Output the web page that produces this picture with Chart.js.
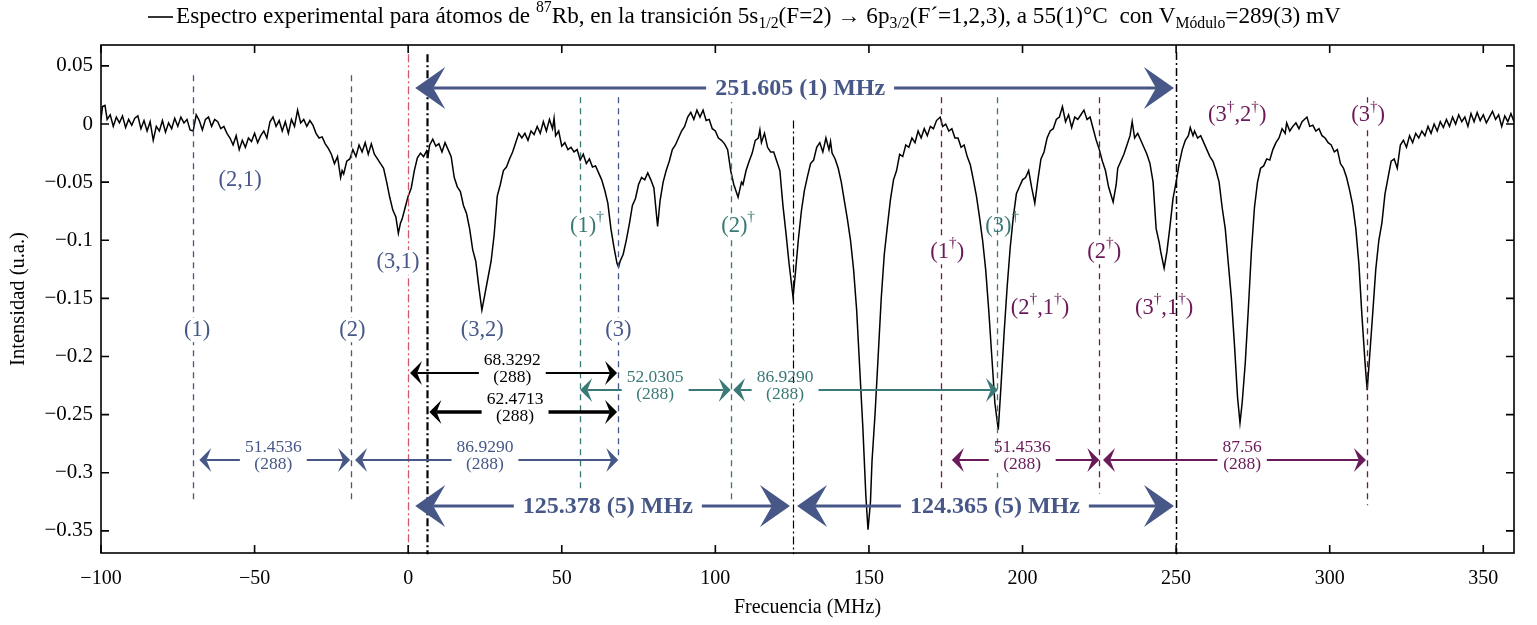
<!DOCTYPE html>
<html>
<head>
<meta charset="utf-8">
<script src="https://cdn.jsdelivr.net/npm/chart.js@4.4.1/dist/chart.umd.min.js"></script>
<style>
  body { margin: 0; background: #fff; }
  #chart { display: block; }
</style>
</head>
<body>
<canvas id="chart" width="1537" height="625"></canvas>
<script>
// Spectrum (MHz, u.a.)
const freq = [
  -100, -99.5, -98.7, -98, -97, -96, -95, -94, -93, -92, -91, -90, -89, -88, -87, -86, -85, -84, -83, -82,
  -81, -80, -79, -78, -77, -76, -75, -74, -73, -72, -71, -70, -69, -68, -67, -66, -65, -64, -63, -62,
  -61, -60, -59, -58, -57, -56, -55, -54, -53, -52, -51, -50, -49, -48, -47, -46, -45, -44, -43, -42,
  -41, -40, -39, -38, -37, -36, -35, -34, -33, -32, -31, -30, -29, -28, -27, -26, -25, -24, -23, -22,
  -21.5, -21, -20, -19, -18, -17, -16, -15, -14, -13, -12, -11, -10, -9, -8, -7, -6, -5, -4, -3.2,
  -2.5, -2, -1, 0, 1, 2, 3, 4, 5, 6, 6.5, 7, 8, 9, 10, 11, 12, 13, 14, 15,
  16, 17, 18, 19, 20, 21, 22, 23, 24, 25, 26, 27, 28, 29, 30, 31, 32, 33, 34, 35,
  36, 37, 38, 39, 40, 41, 42, 43, 44, 45, 46, 47, 47.5, 48, 49, 50, 51, 52, 53, 54,
  55, 56, 57, 58, 59, 60, 61, 62, 63, 64, 65, 66, 67, 68, 68.5, 69, 70, 71, 72, 73,
  74, 75, 76, 77, 78, 79, 80, 81.2, 82, 83, 84, 85, 86, 87, 88, 89, 90, 91, 92, 93,
  94, 95, 96, 97, 98, 99, 100, 101, 102, 103, 104, 105, 106, 107.4, 108.5, 109, 110, 111, 112, 113,
  114, 114.5, 115, 116, 117, 118, 119, 120, 121, 122, 123, 124, 125.3, 126, 127, 128, 129, 130, 131, 132,
  133, 134, 135, 136, 137, 137.5, 138, 139, 140, 141, 142, 143, 144, 145, 146, 147, 148, 149, 149.7, 150.5,
  151, 152, 153, 154, 155, 156, 157, 158, 159, 160, 161, 162, 163, 164, 165, 166, 167, 168, 169, 170,
  171, 172, 173.2, 174, 175, 176, 177, 178, 179, 180, 181, 182, 183, 184, 185, 186, 187, 188, 189, 190,
  191, 192.1, 193, 194, 195, 196, 197, 198, 199, 200, 201, 202, 203, 204, 205, 206, 207, 208, 209, 210,
  211, 212, 213, 214, 215, 216, 217, 218, 219, 220, 221, 222, 223, 224, 225, 226, 227, 228, 229.5, 230.5,
  231, 232, 233, 234, 235, 235.7, 236.5, 237.5, 238.5, 239.5, 240.5, 241.5, 242.5, 243.5, 244.5, 245, 246.1, 247, 248, 249,
  250, 251, 252, 253, 254, 254.6, 255.5, 256, 257, 258, 259, 260, 261, 262, 263, 264, 265, 266, 267, 268,
  269, 270, 270.8, 271.5, 272.5, 273.5, 274.5, 275.5, 276.5, 277.5, 278.5, 279.5, 280.5, 281.5, 282.5, 283.5, 284.5, 285.5, 286, 287,
  288, 289, 290, 291, 292.6, 293.5, 294.5, 295.5, 296.5, 297.5, 298.5, 299.5, 300.5, 301.5, 302.5, 303.5, 304.5, 305.5, 306.5, 307.5,
  308.5, 309.5, 310.5, 311.5, 312.2, 313, 314, 315, 316, 317, 318, 319, 320, 321, 322, 323, 324, 325, 326, 327,
  328, 329, 330, 331, 332, 333, 334, 335, 336, 337, 338, 339, 340, 341, 342, 343, 344, 345, 346, 347,
  348, 349, 350, 351, 352, 353, 354, 355, 356, 357, 358, 359, 360
];
const inten = [
  0.004, 0.015, 0.016, 0.004, 0.008, -0.002, 0.006, 0.001, 0.007, -0.003, 0.004, -0.001, 0.005, 0.007, -0.004, 0.003, -0.006, 0.002, -0.014, -0.002,
  -0.006, 0.003, -0.007, 0.001, -0.004, 0.005, -0.002, 0.006, 0.001, 0.004, -0.005, -0.006, 0.008, 0.003, -0.005, 0.004, 0.006, -0.002, 0.004, 0.002,
  -0.004, -0.002, -0.008, -0.012, -0.018, -0.010, -0.022, -0.014, -0.020, -0.012, -0.015, -0.008, -0.016, -0.010, -0.006, -0.012, 0.002, 0.006, -0.002, 0.003,
  -0.006, 0.002, -0.008, 0.004, -0.002, 0.012, 0.001, 0.004, -0.002, 0.003, -0.001, -0.008, -0.012, -0.011, -0.017, -0.021, -0.026, -0.034, -0.028, -0.046,
  -0.040, -0.043, -0.032, -0.030, -0.022, -0.028, -0.018, -0.024, -0.016, -0.026, -0.017, -0.026, -0.030, -0.034, -0.038, -0.050, -0.063, -0.074, -0.080, -0.094,
  -0.085, -0.082, -0.072, -0.062, -0.055, -0.040, -0.029, -0.025, -0.028, -0.023, -0.027, -0.018, -0.013, -0.019, -0.017, -0.024, -0.016, -0.022, -0.028, -0.046,
  -0.054, -0.058, -0.070, -0.077, -0.090, -0.108, -0.118, -0.140, -0.160, -0.146, -0.132, -0.118, -0.095, -0.062, -0.052, -0.040, -0.037, -0.030, -0.024, -0.016,
  -0.008, -0.012, -0.008, -0.014, -0.006, -0.009, -0.002, -0.008, 0.002, -0.006, 0.004, -0.004, 0.005, -0.010, -0.006, -0.019, -0.016, -0.022, -0.020, -0.024,
  -0.022, -0.031, -0.026, -0.034, -0.030, -0.037, -0.036, -0.042, -0.048, -0.057, -0.068, -0.090, -0.106, -0.120, -0.123, -0.118, -0.112, -0.100, -0.086, -0.070,
  -0.064, -0.052, -0.046, -0.048, -0.042, -0.048, -0.055, -0.088, -0.066, -0.050, -0.040, -0.032, -0.022, -0.018, -0.012, -0.006, -0.002, 0.006, 0.010, 0.004,
  0.012, 0.006, 0.012, 0.003, 0.004, -0.004, -0.006, -0.012, -0.014, -0.017, -0.022, -0.040, -0.052, -0.063, -0.050, -0.052, -0.040, -0.032, -0.025, -0.014,
  -0.012, -0.005, -0.016, -0.008, -0.020, -0.024, -0.024, -0.032, -0.040, -0.070, -0.094, -0.120, -0.149, -0.130, -0.100, -0.075, -0.057, -0.045, -0.034, -0.031,
  -0.020, -0.016, -0.024, -0.012, -0.022, -0.015, -0.025, -0.030, -0.038, -0.050, -0.066, -0.082, -0.100, -0.125, -0.160, -0.210, -0.260, -0.320, -0.349, -0.325,
  -0.290, -0.249, -0.200, -0.150, -0.112, -0.088, -0.065, -0.048, -0.040, -0.026, -0.028, -0.018, -0.020, -0.012, -0.016, -0.006, -0.012, -0.004, -0.010, -0.002,
  -0.004, 0.003, 0.006, -0.002, 0.000, -0.006, -0.004, -0.012, -0.012, -0.020, -0.018, -0.028, -0.035, -0.048, -0.062, -0.080, -0.100, -0.125, -0.160, -0.200,
  -0.240, -0.263, -0.225, -0.180, -0.140, -0.106, -0.080, -0.060, -0.054, -0.048, -0.046, -0.040, -0.055, -0.068, -0.048, -0.030, -0.024, -0.012, -0.006, -0.004,
  0.004, 0.006, 0.015, 0.002, 0.008, -0.003, 0.006, 0.004, 0.008, 0.012, 0.004, 0.006, -0.004, -0.014, -0.022, -0.032, -0.040, -0.054, -0.067, -0.052,
  -0.038, -0.032, -0.026, -0.018, -0.010, 0.002, -0.012, -0.008, -0.014, -0.020, -0.026, -0.034, -0.050, -0.090, -0.102, -0.110, -0.124, -0.110, -0.088, -0.064,
  -0.050, -0.034, -0.022, -0.014, -0.010, -0.003, -0.010, -0.006, -0.012, -0.010, -0.016, -0.022, -0.028, -0.032, -0.040, -0.050, -0.072, -0.090, -0.120, -0.150,
  -0.190, -0.235, -0.257, -0.240, -0.206, -0.160, -0.110, -0.072, -0.050, -0.038, -0.036, -0.030, -0.031, -0.022, -0.016, -0.012, -0.004, -0.008, 0.001, -0.006,
  -0.002, 0.001, -0.004, 0.002, 0.006, -0.002, -0.001, -0.006, -0.004, -0.010, -0.012, -0.016, -0.018, -0.024, -0.022, -0.034, -0.038, -0.046, -0.057, -0.070,
  -0.090, -0.120, -0.165, -0.205, -0.229, -0.200, -0.163, -0.125, -0.100, -0.085, -0.060, -0.046, -0.032, -0.030, -0.038, -0.018, -0.014, -0.020, -0.010, -0.016,
  -0.008, -0.012, -0.006, -0.010, -0.002, -0.008, 0.000, -0.006, 0.002, -0.003, 0.004, -0.002, 0.006, 0.000, 0.008, 0.002, 0.006, -0.002, 0.009, 0.002,
  0.010, 0.003, 0.008, 0.001, 0.006, 0.011, 0.004, 0.008, -0.002, 0.007, 0.002, 0.009, 0.002
];

const xTicks = [-100, -50, 0, 50, 100, 150, 200, 250, 300, 350];
const yTicks = [0.05, 0, -0.05, -0.1, -0.15, -0.2, -0.25, -0.3, -0.35];

const titleText = 'Espectro experimental para átomos de ^{87}Rb, en la transición 5s_{1/2}(F=2) → 6p_{3/2}(F´=1,2,3), a 55(1)°C  con V_{Módulo}=289(3) mV';

const BLUE = '#475888';
const TEAL = '#3a7977';
const PURPLE = '#6a1a58';
const RED = '#d25a68';
const SERIF = '"Liberation Serif", "DejaVu Serif", serif';

// marker lines (MHz)
const vlines = [
  { x: -70, top: 0.042, bottom: -0.3235, color: BLUE, style: 'dash' },
  { x: -18.6, top: 0.042, bottom: -0.3235, color: BLUE, style: 'dash' },
  { x: 68.4, top: 0.023, bottom: -0.289, color: BLUE, style: 'dash' },
  { x: 56, top: 0.023, bottom: -0.3235, color: TEAL, style: 'dash' },
  { x: 105.1, top: 0.023, bottom: -0.3235, color: TEAL, style: 'dash' },
  { x: 191.7, top: 0.023, bottom: -0.325, color: TEAL, style: 'dash' },
  { x: 173.5, top: 0.023, bottom: -0.32, color: PURPLE, style: 'dash' },
  { x: 225, top: 0.023, bottom: -0.318, color: PURPLE, style: 'dash' },
  { x: 312.2, top: 0.023, bottom: -0.328, color: PURPLE, style: 'dash' },
  { x: 0, top: 0.06, bottom: -0.37, color: RED, style: 'dashdot', width: 1.3 },
  { x: 6.2, top: 0.06, bottom: -0.37, color: '#000', style: 'dashdot', width: 2.2 },
  { x: 125.4, top: 0.003, bottom: -0.37, color: '#000', style: 'dashdot', width: 1.2 },
  { x: 250, top: 0.062, bottom: -0.37, color: '#000', style: 'dashdot', width: 1.5 }
];

// peak labels
const peakLabels = [
  { t: '(2,1)', x: -54.7, y: -0.048, color: BLUE },
  { t: '(3,1)', x: -3.3, y: -0.119, color: BLUE, bg: true },
  { t: '(1)', x: -68.7, y: -0.177, color: BLUE, bg: true },
  { t: '(2)', x: -18.2, y: -0.177, color: BLUE, bg: true },
  { t: '(3,2)', x: 24.1, y: -0.177, color: BLUE },
  { t: '(3)', x: 68.4, y: -0.177, color: BLUE, bg: true },
  { t: '(1)^{†}', x: 58.2, y: -0.0877, color: TEAL, bg: true },
  { t: '(2)^{†}', x: 107.4, y: -0.0877, color: TEAL, bg: true },
  { t: '(3)^{†}', x: 193.4, y: -0.0877, color: TEAL },
  { t: '(1^{†})', x: 175.5, y: -0.110, color: PURPLE, bg: true },
  { t: '(2^{†})', x: 226.6, y: -0.110, color: PURPLE, bg: true },
  { t: '(2^{†},1^{†})', x: 205.7, y: -0.158, color: PURPLE },
  { t: '(3^{†},1^{†})', x: 246.1, y: -0.158, color: PURPLE },
  { t: '(3^{†},2^{†})', x: 269.9, y: 0.0077, color: PURPLE },
  { t: '(3^{†})', x: 312.5, y: 0.0077, color: PURPLE, bg: true }
];

// distance arrows
const arrows = [
  { x1: 2.3, x2: 249.3, y: 0.031, color: BLUE, big: true, label: ['251.605 (1) MHz'], lx: 127.6 },
  { x1: 2.3, x2: 124.3, y: -0.3286, color: BLUE, big: true, label: ['125.378 (5) MHz'], lx: 65 },
  { x1: 126.6, x2: 249.3, y: -0.3286, color: BLUE, big: true, label: ['124.365 (5) MHz'], lx: 191 },
  { x1: 0.6, x2: 68, y: -0.2142, color: '#000', width: 2, label: ['68.3292', '(288)'], lx: 33.9 },
  { x1: 6.9, x2: 68, y: -0.2477, color: '#000', width: 3.4, label: ['62.4713', '(288)'], lx: 34.8 },
  { x1: 56, x2: 105, y: -0.2288, color: TEAL, width: 2, label: ['52.0305', '(288)'], lx: 80.4 },
  { x1: 105.8, x2: 192, y: -0.2288, color: TEAL, width: 2, label: ['86.9290', '(288)'], lx: 122.7 },
  { x1: -68, x2: -18.9, y: -0.289, color: BLUE, width: 2, label: ['51.4536', '(288)'], lx: -43.9 },
  { x1: -17.3, x2: 68.4, y: -0.289, color: BLUE, width: 2, label: ['86.9290', '(288)'], lx: 25 },
  { x1: 177, x2: 225, y: -0.289, color: PURPLE, width: 2, label: ['51.4536', '(288)'], lx: 199.9 },
  { x1: 226.2, x2: 311.8, y: -0.289, color: PURPLE, width: 2, label: ['87.56', '(288)'], lx: 271.5 }
];

function fmt(v) {
  return (v < 0 ? '\u2212' : '') + String(Math.abs(v));
}

// tiny rich text: ^{..} superscript, _{..} subscript
function parseRich(str) {
  const out = [];
  let i = 0, buf = '';
  while (i < str.length) {
    const c = str[i];
    if ((c === '^' || c === '_') && str[i + 1] === '{') {
      if (buf) { out.push({ t: buf, m: 0 }); buf = ''; }
      const end = str.indexOf('}', i);
      out.push({ t: str.slice(i + 2, end), m: c === '^' ? 1 : -1 });
      i = end + 1;
    } else {
      buf += c;
      i++;
    }
  }
  if (buf) out.push({ t: buf, m: 0 });
  return out;
}

function richWidth(ctx, segs, size, weight) {
  let w = 0;
  segs.forEach(s => {
    ctx.font = weight + ' ' + (s.m ? size * 0.68 : size) + 'px ' + SERIF;
    w += ctx.measureText(s.t).width;
  });
  return w;
}

function drawRich(ctx, str, x, y, size, color, opts = {}) {
  const weight = opts.bold ? 'bold' : 'normal';
  const segs = parseRich(str);
  const w = richWidth(ctx, segs, size, weight);
  let cx = opts.align === 'left' ? x : x - w / 2;
  if (opts.bg) {
    ctx.fillStyle = '#fff';
    ctx.fillRect(cx - 2, y - size * 0.55, w + 4, size * 1.1);
  }
  ctx.fillStyle = color;
  ctx.textBaseline = 'middle';
  ctx.textAlign = 'left';
  segs.forEach(s => {
    const sz = s.m ? size * 0.68 : size;
    ctx.font = weight + ' ' + sz + 'px ' + SERIF;
    const dy = s.m === 1 ? -size * 0.38 : s.m === -1 ? size * 0.3 : 0;
    ctx.fillText(s.t, cx, y + dy);
    cx += ctx.measureText(s.t).width;
  });
  return w;
}

function arrowHead(ctx, tx, y, dir, L, H, notch) {
  ctx.beginPath();
  ctx.moveTo(tx, y);
  ctx.lineTo(tx - dir * L, y - H);
  ctx.lineTo(tx - dir * L * notch, y);
  ctx.lineTo(tx - dir * L, y + H);
  ctx.closePath();
  ctx.fill();
}

const annotationPlugin = {
  id: 'annotations',
  afterDatasetsDraw(chart) {
    const ctx = chart.ctx;
    const xs = chart.scales.x, ys = chart.scales.y;
    const px = v => xs.getPixelForValue(v);
    const py = v => ys.getPixelForValue(v);
    ctx.save();

    vlines.forEach(l => {
      ctx.strokeStyle = l.color;
      ctx.lineWidth = l.width || 1.3;
      ctx.setLineDash(l.style === 'dash' ? [6, 5] : [8, 3, 2, 3]);
      ctx.beginPath();
      ctx.moveTo(Math.round(px(l.x)) + 0.5, py(l.top));
      ctx.lineTo(Math.round(px(l.x)) + 0.5, py(l.bottom));
      ctx.stroke();
    });
    ctx.setLineDash([]);

    arrows.forEach(a => {
      const x1 = px(a.x1), x2 = px(a.x2), y = py(a.y);
      const L = a.big ? 30 : 12, H = a.big ? 21 : 12;
      ctx.strokeStyle = a.color;
      ctx.fillStyle = a.color;
      ctx.lineWidth = a.big ? 3 : a.width;
      ctx.beginPath();
      ctx.moveTo(x1 + L * 0.6, y);
      ctx.lineTo(x2 - L * 0.6, y);
      ctx.stroke();
      arrowHead(ctx, x1, y, -1, L, H, 0.6);
      arrowHead(ctx, x2, y, 1, L, H, 0.6);
      const lx = px(a.lx);
      if (a.big) {
        ctx.font = 'bold 24px ' + SERIF;
        const w = ctx.measureText(a.label[0]).width;
        ctx.fillStyle = '#fff';
        ctx.fillRect(lx - w / 2 - 9, y - 14, w + 18, 28);
        drawRich(ctx, a.label[0], lx, y + 1, 24, a.color, { bold: true });
      } else {
        ctx.font = '17.5px ' + SERIF;
        const w = Math.max(ctx.measureText(a.label[0]).width, ctx.measureText(a.label[1]).width);
        ctx.fillStyle = '#fff';
        ctx.fillRect(lx - w / 2 - 5, y - 7, w + 10, 20);
        drawRich(ctx, a.label[0], lx, y - 13, 17.5, a.color);
        drawRich(ctx, a.label[1], lx, y + 4, 17.5, a.color);
      }
    });

    peakLabels.forEach(p => {
      drawRich(ctx, p.t, px(p.x), py(p.y), 22.5, p.color, { bg: p.bg });
    });
    ctx.restore();
  }
};

const framePlugin = {
  id: 'frame',
  afterDraw(chart) {
    const ctx = chart.ctx;
    const a = chart.chartArea;
    const xs = chart.scales.x, ys = chart.scales.y;
    ctx.save();
    ctx.strokeStyle = '#000';
    ctx.lineWidth = 1.6;
    ctx.strokeRect(a.left, a.top, a.right - a.left, a.bottom - a.top);
    ctx.beginPath();
    xTicks.forEach(v => {
      const x = xs.getPixelForValue(v);
      ctx.moveTo(x, a.bottom); ctx.lineTo(x, a.bottom - 8);
      ctx.moveTo(x, a.top); ctx.lineTo(x, a.top + 8);
    });
    yTicks.forEach(v => {
      const y = ys.getPixelForValue(v);
      ctx.moveTo(a.left, y); ctx.lineTo(a.left + 8, y);
      ctx.moveTo(a.right, y); ctx.lineTo(a.right - 8, y);
    });
    ctx.stroke();

    // legend-style title
    ctx.lineWidth = 1.6;
    ctx.beginPath();
    ctx.moveTo(148, 17); ctx.lineTo(173, 17);
    ctx.stroke();
    drawRich(ctx, titleText, 176, 17, 23.2, '#000', { align: 'left' });
    ctx.restore();
  }
};

new Chart(document.getElementById('chart'), {
  type: 'line',
  data: {
    datasets: [{
      data: freq.map((f, i) => ({ x: f, y: inten[i] })),
      borderColor: '#000',
      borderWidth: 1.5,
      pointRadius: 0,
      tension: 0,
      fill: false
    }]
  },
  options: {
    responsive: false,
    animation: false,
    devicePixelRatio: 1,
    layout: { padding: { top: 45, right: 23, left: 0, bottom: 0 } },
    plugins: { legend: { display: false }, tooltip: { enabled: false } },
    scales: {
      x: {
        type: 'linear',
        min: -100,
        max: 360,
        afterBuildTicks: s => { s.ticks = xTicks.map(v => ({ value: v })); },
        afterFit: s => { s.height = 72; },
        grid: { display: false },
        border: { display: false },
        ticks: { color: '#000', padding: 6, font: { family: SERIF, size: 20 }, callback: v => fmt(v), maxRotation: 0, autoSkip: false },
        title: { display: true, text: 'Frecuencia (MHz)', color: '#000', font: { family: SERIF, size: 20 }, padding: { top: 0, bottom: 5 } }
      },
      y: {
        type: 'linear',
        min: -0.369,
        max: 0.068,
        afterBuildTicks: s => { s.ticks = yTicks.map(v => ({ value: v })); },
        afterFit: s => { s.width = 101; },
        grid: { display: false },
        border: { display: false },
        ticks: { color: '#000', padding: 0, font: { family: SERIF, size: 21 }, callback: v => fmt(v), autoSkip: false },
        title: { display: true, text: 'Intensidad (u.a.)', color: '#000', font: { family: SERIF, size: 20.5 }, padding: { top: 6, bottom: 0 } }
      }
    }
  },
  plugins: [annotationPlugin, framePlugin]
});
</script>
</body>
</html>
